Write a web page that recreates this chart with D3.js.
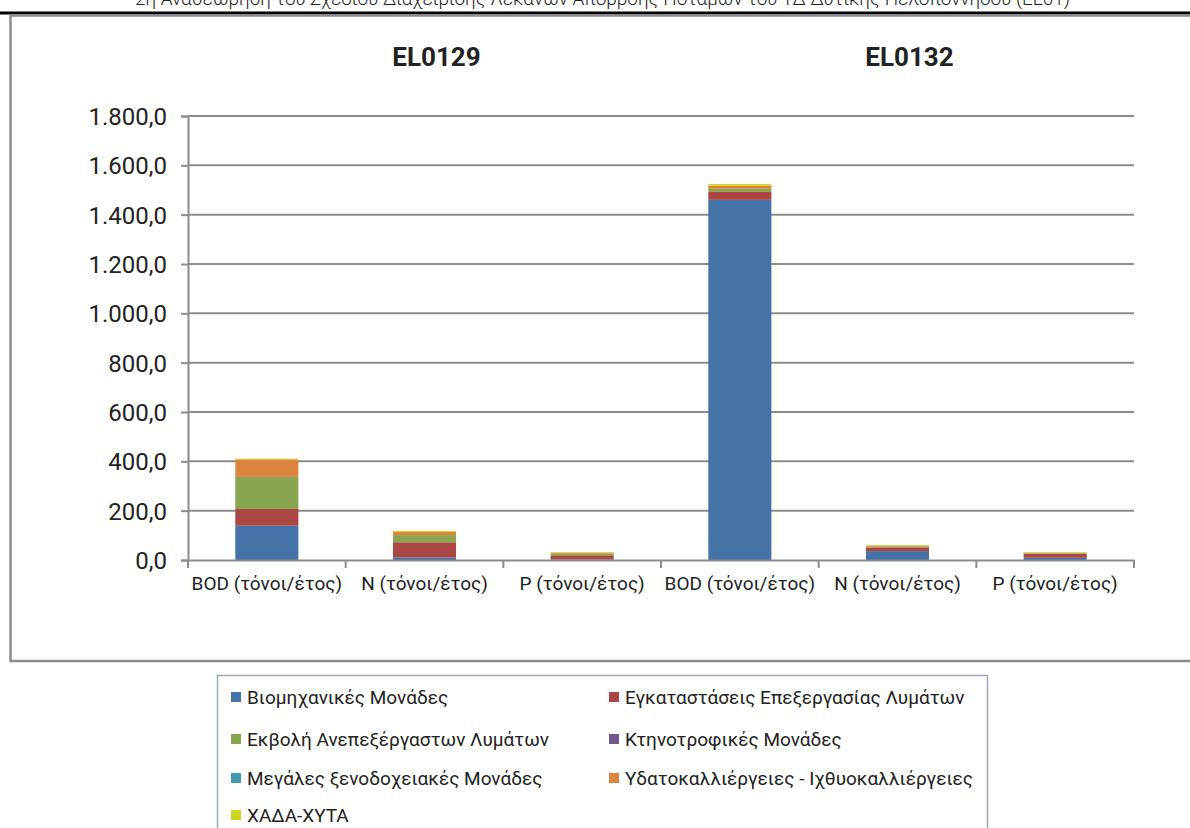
<!DOCTYPE html>
<meta charset="utf-8">
<style>
body, html {
  margin: 0;
  padding: 0;
  background: #fff;
}
text {
  font-family: Roboto, "Noto Sans", sans-serif;
  fill: #222;
}
</style>
<div id="chart"></div>
<script src="https://d3js.org/d3.v7.min.js"></script>
<script>
// data (tonnes / year)
const groups = ["EL0129", "EL0132"]
const measures = ["BOD (τόνοι/έτος)", "N (τόνοι/έτος)", "P (τόνοι/έτος)"]
const seriesNames = [
  "Βιομηχανικές Μονάδες",
  "Εγκαταστάσεις Επεξεργασίας Λυμάτων",
  "Εκβολή Ανεπεξέργαστων Λυμάτων",
  "Κτηνοτροφικές Μονάδες",
  "Μεγάλες ξενοδοχειακές Μονάδες",
  "Υδατοκαλλιέργειες - Ιχθυοκαλλιέργειες",
  "ΧΑΔΑ-ΧΥΤΑ"
]
const seriesColors = ["#4572a7", "#aa4643", "#89a54e", "#71588f", "#4198af", "#db843d", "#cdd41e"]
// one array per series, order: EL0129 BOD, N, P, EL0132 BOD, N, P
const industry   = [139, 10, 2, 1460, 36, 9]
const treatment  = [68, 62, 17, 32, 15, 16]
const untreated  = [130, 29, 7, 13, 3, 2]
const livestock  = [0, 0, 0, 0, 0, 0]
const hotels     = [0, 0, 0, 0, 0, 0]
const aquaculture = [71, 13, 3, 12, 4, 2]
const landfills  = [3, 4, 3, 7, 3, 3]
const yTicks = [0, 200, 400, 600, 800, 1000, 1200, 1400, 1600, 1800]
const header = "2η Αναθεώρηση του Σχεδίου Διαχείρισης Λεκανών Απορροής Ποταμών του ΥΔ Δυτικής Πελοποννήσου (EL01)"

const seriesValues = [industry, treatment, untreated, livestock, hotels, aquaculture, landfills]
const categories = []
groups.forEach(g => measures.forEach(m => categories.push(g + "|" + m)))
const table = categories.map((c, i) => {
  const row = { key: c }
  seriesNames.forEach((s, j) => { row[s] = seriesValues[j][i] })
  return row
})

const width = 1190, height = 828
const svg = d3.select("#chart").append("svg")
  .attr("width", width).attr("height", height)

// page header (cut off at the top of the page, as in the scan)
svg.append("text")
  .attr("x", 135).attr("y", 5)
  .attr("textLength", 935).attr("lengthAdjust", "spacingAndGlyphs")
  .style("font-size", "19px").style("font-weight", 300)
  .text(header)
svg.append("rect").attr("x", 0).attr("y", 11.5).attr("width", width).attr("height", 3).attr("fill", "#000")

// chart frame
svg.append("rect")
  .attr("x", 10.5).attr("y", 15.5).attr("width", width + 20).attr("height", 645.5)
  .attr("fill", "#fff").attr("stroke", "#8c8c8c").attr("stroke-width", 2.5)

const plot = { left: 188, right: 1134, top: 116, bottom: 560 }

const x = d3.scaleBand().domain(categories).range([plot.left, plot.right]).paddingInner(0.6).paddingOuter(0.3)
const xOuter = d3.scaleBand().domain(categories).range([plot.left, plot.right])
const y = d3.scaleLinear().domain([0, 1800]).range([plot.bottom, plot.top])

const fmt = v => d3.format(",.1f")(v).replace(/,/g, "#").replace(".", ",").replace(/#/g, ".")

// gridlines
svg.append("g").selectAll("line").data(yTicks.slice(1)).join("line")
  .attr("x1", plot.left).attr("x2", plot.right)
  .attr("y1", d => y(d)).attr("y2", d => y(d))
  .attr("stroke", "#8c8c8c").attr("stroke-width", 2)

// y axis
const yAxis = svg.append("g").attr("transform", `translate(${plot.left},0)`)
  .call(d3.axisLeft(y).tickValues(yTicks).tickFormat(fmt).tickSize(7).tickPadding(14))
yAxis.select(".domain").attr("stroke", "#8c8c8c").attr("stroke-width", 2)
yAxis.selectAll(".tick line").attr("stroke", "#8c8c8c").attr("stroke-width", 2)
yAxis.selectAll(".tick text").style("font-size", "24px").attr("fill", "#222").attr("dy", "0.36em")

// stacked bars
const stack = d3.stack().keys(seriesNames)(table)
svg.append("g").selectAll("g").data(stack).join("g")
  .attr("fill", (d, i) => seriesColors[i])
  .selectAll("rect").data(d => d).join("rect")
  .attr("x", d => x(d.data.key))
  .attr("width", x.bandwidth())
  .attr("y", d => y(d[1]))
  .attr("height", d => Math.max(0, y(d[0]) - y(d[1])))

// x axis
const xAxis = svg.append("g").attr("transform", `translate(0,${plot.bottom})`)
  .call(d3.axisBottom(xOuter).tickSize(0).tickFormat(d => d.split("|")[1]).tickPadding(17))
xAxis.select(".domain").attr("stroke", "#8c8c8c").attr("stroke-width", 2)
xAxis.selectAll(".tick text").style("font-size", "19px").attr("fill", "#222")
svg.append("g").selectAll("line")
  .data(categories.map(c => xOuter(c)).concat([plot.right]))
  .join("line")
  .attr("x1", d => d).attr("x2", d => d)
  .attr("y1", plot.bottom).attr("y2", plot.bottom + 8)
  .attr("stroke", "#8c8c8c").attr("stroke-width", 2)

// group titles
groups.forEach(g => {
  const first = xOuter(g + "|" + measures[0])
  const last = xOuter(g + "|" + measures[measures.length - 1]) + xOuter.bandwidth()
  svg.append("text")
    .attr("x", (first + last) / 2 + 12).attr("y", 66)
    .attr("text-anchor", "middle")
    .style("font-size", "26px").style("font-weight", "bold")
    .text(g)
})

// legend
svg.append("rect")
  .attr("x", 217.5).attr("y", 675.5).attr("width", 770).attr("height", 170)
  .attr("fill", "#fff").attr("stroke", "#9aa8bd").attr("stroke-width", 1.5)
const legend = svg.append("g").selectAll("g").data(seriesNames).join("g")
  .attr("transform", (d, i) => `translate(${i % 2 ? 609 : 231},${[697, 739, 778, 815][Math.floor(i / 2)]})`)
legend.append("rect")
  .attr("x", 0).attr("y", -5).attr("width", 10).attr("height", 10)
  .attr("fill", (d, i) => seriesColors[i])
legend.append("text")
  .attr("x", 16).attr("dy", "0.35em")
  .style("font-size", "19px")
  .text(d => d)
</script>
